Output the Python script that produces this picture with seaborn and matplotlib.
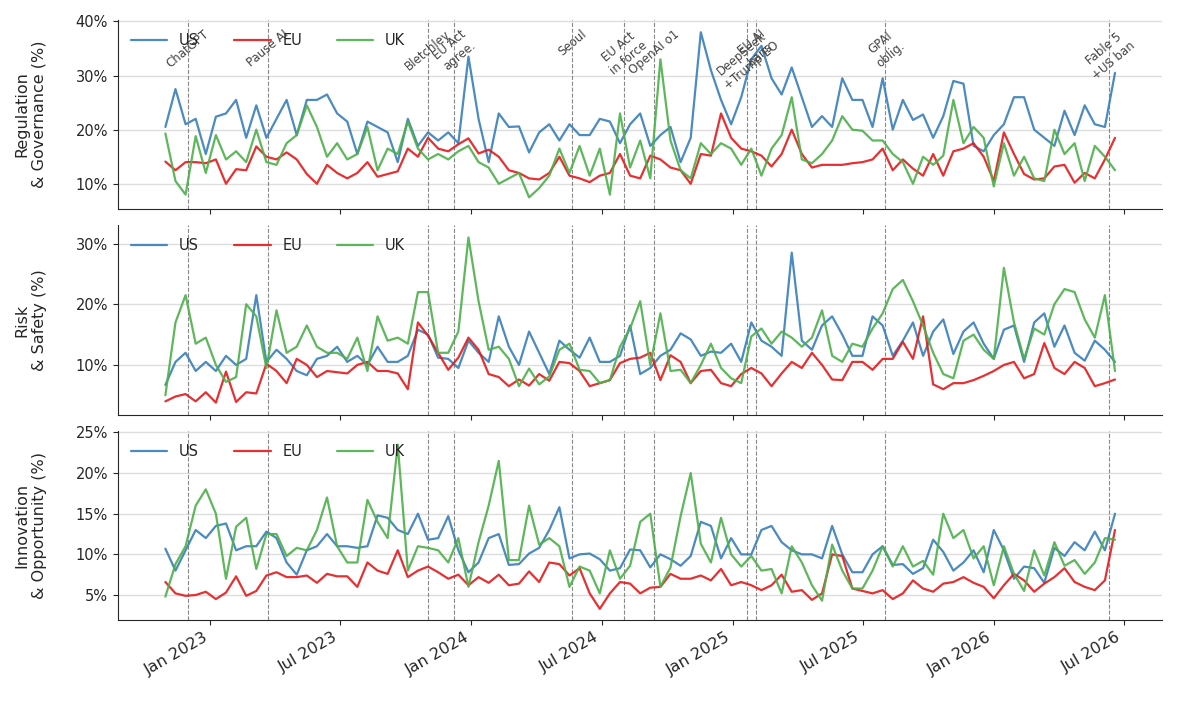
import numpy as np
import pandas as pd
import matplotlib.pyplot as plt
import matplotlib.dates as mdates
from matplotlib.ticker import FuncFormatter, MultipleLocator
import seaborn as sns

sns.set_style("ticks")

# ~biweekly sampling, late Oct 2022 -> mid Jun 2026
dates = pd.date_range("2022-10-30", "2026-06-19", periods=95)

# Regulation & Governance (%)
reg_us = [20.5, 27.5, 21.0, 22.0, 15.5, 22.4, 23.0, 25.5, 18.5, 24.5, 18.5, 22.0, 25.5, 19.0, 25.5, 25.5, 26.5, 23.0, 21.5, 15.5,
          21.5, 20.5, 19.5, 14.0, 22.0, 17.0, 19.5, 18.0, 19.5, 17.5, 33.5, 22.0, 14.0, 23.0, 20.5,
          20.6, 15.8, 19.5, 21.0, 18.0, 21.0, 19.0, 19.0, 22.0, 21.5, 17.5, 21.0, 23.0, 17.0, 19.0, 20.5, 14.0, 18.5, 38.0, 31.0,
          25.5, 21.0, 26.0, 33.0, 35.5, 29.5, 26.5, 31.5, 26.0, 20.5, 22.5, 20.5, 29.5, 25.5, 25.5, 20.5, 29.5, 20.0,
          25.5, 21.8, 22.8, 18.5, 22.5, 29.0, 28.5, 17.0, 16.0, 19.0, 21.0, 26.0, 26.0, 20.0, 18.5, 17.0, 23.5, 19.0, 24.5, 21.0,
          20.5, 30.5]
reg_eu = [14.1, 12.5, 14.0, 14.0, 13.8, 14.5, 10.0, 12.7, 12.5, 16.9, 15.0, 14.5, 15.8, 14.5, 11.8, 10.0, 13.5, 12.0, 11.0, 12.0,
          14.0, 11.3, 11.8, 12.3, 16.5, 15.0, 18.5, 16.5, 16.0, 17.3, 18.4, 15.6, 16.3, 15.0, 12.5,
          12.0, 11.0, 10.8, 12.0, 15.0, 11.5, 11.0, 10.3, 11.5, 12.0, 15.5, 11.5, 11.0, 15.2, 14.5, 13.0, 12.5, 10.0, 15.5, 15.2,
          23.0, 18.5, 16.5, 16.0, 15.2, 13.2, 15.5, 20.0, 15.5, 13.0, 13.5, 13.5, 13.5, 13.8, 14.0, 14.5, 16.5, 12.5,
          14.5, 12.8, 11.5, 15.5, 11.5, 16.0, 16.5, 17.5, 15.0, 10.5, 19.5, 15.5, 11.8, 10.8, 11.0, 13.2, 13.5, 10.2, 12.0, 11.0,
          14.5, 18.5]
reg_uk = [19.3, 10.5, 8.0, 18.8, 12.0, 19.0, 14.5, 16.0, 14.0, 20.0, 14.0, 13.5, 17.5, 19.0, 24.5, 20.5, 15.0, 17.5, 14.5, 15.5,
          20.5, 12.5, 16.5, 15.5, 21.5, 16.5, 14.5, 15.5, 14.5, 16.0, 17.0, 14.0, 13.0, 10.0, 11.0,
          12.0, 7.5, 9.2, 11.5, 16.5, 12.0, 17.0, 11.5, 16.5, 8.0, 23.0, 13.0, 18.0, 11.0, 33.0, 18.0, 12.5, 11.0, 17.5, 15.5,
          17.5, 16.5, 13.5, 16.5, 11.5, 16.5, 19.0, 26.0, 14.5, 13.8, 15.5, 18.0, 22.5, 20.0, 19.8, 18.0, 18.0, 15.5,
          14.0, 10.0, 15.0, 13.5, 15.2, 25.5, 17.5, 20.5, 18.5, 9.5, 17.5, 11.5, 15.0, 11.0, 10.5, 20.0, 15.5, 17.5, 10.5, 17.0,
          15.0, 12.5]

# Risk & Safety (%)
risk_us = [6.7, 10.5, 12.0, 9.0, 10.5, 9.0, 11.5, 10.0, 11.0, 21.5, 10.5, 12.5, 11.0, 9.0, 8.3, 11.0, 11.5, 13.0, 10.5, 11.5,
           10.0, 13.0, 10.5, 10.5, 11.5, 15.8, 15.0, 11.2, 11.0, 9.5, 14.0, 12.0, 10.5, 18.0, 13.0,
           10.0, 15.5, 12.0, 8.5, 14.0, 12.5, 11.2, 14.5, 10.5, 10.5, 11.5, 16.5, 8.5, 9.5, 11.5, 12.5, 15.2, 14.2, 11.5, 12.2,
           12.0, 13.5, 10.5, 17.0, 14.0, 13.0, 11.5, 28.5, 14.0, 12.5, 16.5, 18.0, 15.0, 11.5, 11.5, 18.0, 16.5, 11.5,
           14.0, 17.0, 11.5, 15.5, 17.5, 11.8, 15.5, 17.0, 13.5, 11.0, 15.8, 16.5, 10.5, 17.0, 18.5, 13.0, 16.5, 12.0, 10.7, 14.0,
           12.5, 10.5]
risk_eu = [4.0, 4.8, 5.2, 4.0, 5.5, 3.8, 8.9, 3.9, 5.5, 5.3, 10.2, 9.0, 7.0, 11.0, 10.0, 8.0, 9.0, 8.8, 8.6, 10.0,
           10.5, 9.0, 9.0, 8.6, 6.0, 17.0, 14.8, 12.0, 9.2, 11.2, 14.5, 12.5, 8.5, 8.0, 6.5,
           7.6, 6.6, 8.5, 7.4, 10.5, 10.3, 9.0, 6.5, 7.0, 7.5, 10.3, 11.0, 11.2, 12.0, 7.5, 11.6, 10.5, 7.0, 9.0, 9.2,
           7.0, 6.5, 8.5, 9.5, 8.6, 6.5, 8.6, 10.5, 9.5, 12.0, 10.0, 7.6, 7.5, 10.5, 10.5, 9.2, 11.0, 11.0,
           13.8, 11.0, 18.0, 6.8, 6.0, 7.0, 7.0, 7.5, 8.2, 9.0, 10.0, 10.5, 7.8, 8.5, 13.6, 9.5, 8.5, 10.5, 9.5, 6.5,
           7.0, 7.6]
risk_uk = [5.0, 17.0, 21.5, 13.5, 14.5, 10.0, 7.2, 8.0, 20.0, 18.0, 9.5, 19.0, 12.0, 13.0, 16.5, 13.0, 12.0, 12.0, 11.0, 14.5,
           9.0, 18.0, 14.0, 14.5, 13.5, 22.0, 22.0, 12.0, 12.0, 15.5, 31.0, 20.5, 12.5, 13.0, 11.0,
           6.5, 9.4, 6.8, 8.1, 12.5, 13.5, 9.2, 9.0, 7.0, 7.5, 13.0, 16.0, 20.5, 10.0, 18.5, 9.0, 9.2, 7.0, 10.0, 13.5,
           9.5, 7.8, 7.0, 14.7, 16.0, 13.5, 15.5, 14.5, 13.0, 14.5, 19.0, 11.5, 10.5, 13.5, 13.0, 16.0, 18.5, 22.5,
           24.0, 20.5, 16.5, 12.0, 8.5, 7.8, 14.0, 15.0, 12.5, 11.0, 26.0, 17.0, 11.0, 16.0, 15.0, 20.0, 22.5, 22.0, 17.5, 14.5,
           21.5, 9.0]

# Innovation & Opportunity (%)
inno_us = [10.7, 8.0, 10.5, 13.0, 12.0, 13.5, 13.8, 10.5, 11.0, 11.0, 12.8, 12.0, 9.0, 7.5, 10.5, 11.0, 12.5, 11.0, 11.0, 10.8,
           11.0, 14.8, 14.5, 13.0, 12.5, 15.0, 11.8, 12.0, 14.7, 10.5, 7.8, 9.0, 12.0, 12.5, 8.7,
           8.8, 10.1, 10.8, 13.0, 15.8, 9.5, 10.0, 10.1, 9.4, 8.0, 8.3, 10.6, 10.5, 8.4, 10.0, 9.4, 8.6, 9.8, 14.0, 13.5,
           9.5, 12.0, 10.0, 10.0, 13.0, 13.5, 11.5, 10.5, 10.0, 10.0, 9.5, 13.5, 10.0, 7.8, 7.8, 10.0, 11.0, 8.7,
           8.8, 7.6, 8.3, 11.8, 10.3, 8.0, 9.0, 10.5, 7.8, 13.0, 10.5, 7.0, 8.5, 8.3, 6.5, 10.8, 9.8, 11.5, 10.5, 12.8,
           10.5, 15.0]
inno_eu = [6.6, 5.2, 4.9, 5.0, 5.4, 4.5, 5.3, 7.3, 4.9, 5.5, 7.4, 7.8, 7.2, 7.2, 7.4, 6.5, 7.6, 7.3, 7.3, 6.0,
           9.0, 8.0, 7.6, 10.5, 7.2, 8.0, 8.5, 7.8, 7.0, 7.5, 6.2, 7.2, 6.5, 7.5, 6.2,
           6.4, 7.9, 6.6, 9.0, 8.8, 7.4, 8.3, 5.2, 3.3, 5.2, 6.6, 6.4, 5.2, 5.9, 6.0, 7.6, 7.0, 7.0, 7.4, 6.8,
           8.2, 6.2, 6.6, 6.2, 5.6, 6.2, 7.5, 5.4, 5.6, 4.4, 5.2, 10.0, 9.8, 5.8, 5.5, 5.2, 5.6, 4.5,
           5.2, 6.8, 5.8, 5.4, 6.4, 6.6, 7.2, 6.5, 6.0, 4.6, 6.2, 7.6, 6.8, 5.4, 6.4, 7.2, 8.3, 6.6, 6.0, 5.6,
           6.8, 13.0]
inno_uk = [4.8, 8.8, 11.0, 16.0, 18.0, 15.0, 7.0, 13.4, 14.5, 8.2, 12.5, 12.5, 9.8, 10.8, 10.5, 13.0, 17.0, 11.0, 9.0, 9.0,
           16.7, 14.0, 12.0, 23.5, 8.0, 11.0, 10.8, 10.5, 9.0, 12.0, 6.0, 11.5, 16.0, 21.5, 9.3,
           9.3, 16.0, 11.2, 12.0, 11.0, 6.0, 8.5, 8.0, 5.2, 10.5, 7.0, 8.6, 14.0, 15.0, 6.0, 8.4, 14.7, 20.0, 11.3, 9.0,
           14.5, 10.0, 8.5, 9.8, 8.0, 8.2, 5.2, 11.0, 9.0, 6.2, 4.3, 11.2, 8.0, 5.8, 5.8, 8.0, 11.0, 8.5,
           11.0, 8.5, 9.2, 7.5, 15.0, 12.0, 13.0, 9.5, 11.0, 6.2, 11.0, 7.6, 5.5, 10.5, 7.4, 11.5, 8.6, 9.3, 7.6, 9.0,
           12.0, 11.8]

regions = ["US", "EU", "UK"]
palette = {"US": "#377eb8", "EU": "#e41a1c", "UK": "#4daf4a"}

event_dates = ["2022-11-30", "2023-03-22", "2023-11-01", "2023-12-08", "2024-05-21", "2024-08-01",
               "2024-09-12", "2025-01-20", "2025-02-02", "2025-08-02", "2026-06-10"]
event_labels = ["ChatGPT", "Pause AI", "Bletchley", "EU Act\nagree.", "Seoul", "EU Act\nin force",
                "OpenAI o1", "DeepSeek\n+Trump EO", "EU AI\nbans", "GPAI\noblig.", "Fable 5\n+US ban"]

panels = [
    ("Regulation\n& Governance (%)", [reg_us, reg_eu, reg_uk], (5.3, 40.3), 10),
    ("Risk\n& Safety (%)", [risk_us, risk_eu, risk_uk], (1.8, 33.0), 10),
    ("Innovation\n& Opportunity (%)", [inno_us, inno_eu, inno_uk], (1.9, 25.2), 5),
]

fig, axes = plt.subplots(3, 1, figsize=(11.79, 7.08), dpi=100, sharex=True)
fig.subplots_adjust(left=0.100, right=0.986, top=0.972, bottom=0.124, hspace=0.085)

for ax, (ylabel, series, ylim, step) in zip(axes, panels):
    df = pd.concat([pd.DataFrame({"date": dates, "value": vals, "region": r})
                    for r, vals in zip(regions, series)], ignore_index=True)
    ax.grid(axis="y", color="#dddddd", linewidth=1.0)
    ax.set_axisbelow(True)
    for d in event_dates:
        ax.axvline(pd.Timestamp(d), color="#888888", linestyle="--", linewidth=0.8, zorder=1)
    sns.lineplot(data=df, x="date", y="value", hue="region", hue_order=regions,
                 palette=palette, linewidth=1.6, alpha=0.9, ax=ax, zorder=3)
    ax.set_ylim(*ylim)
    ax.yaxis.set_major_locator(MultipleLocator(step))
    ax.yaxis.set_major_formatter(FuncFormatter(lambda v, p: f"{v:.0f}%"))
    ax.set_ylabel(ylabel, fontsize=11.5)
    ax.yaxis.set_label_coords(-0.068, 0.5)
    ax.set_xlabel("")
    ax.tick_params(axis="y", labelsize=10.5)
    ax.tick_params(axis="x", labelsize=11.5)
    ax.legend(loc="upper left", ncol=3, frameon=False, fontsize=10.5,
              handlelength=2.5, columnspacing=2.4)
    sns.despine(ax=ax)

top = axes[0]
for d, lab in zip(event_dates, event_labels):
    top.text(pd.Timestamp(d), 0.96, lab, transform=top.get_xaxis_transform(),
             rotation=40, ha="center", va="top", fontsize=8.5, color="#444444")

axes[-1].xaxis.set_major_locator(mdates.MonthLocator(bymonth=[1, 7]))
axes[-1].xaxis.set_major_formatter(mdates.DateFormatter("%b %Y"))
for lab in axes[-1].get_xticklabels():
    lab.set_rotation(30)
    lab.set_ha("right")

fig.savefig("out.png", dpi=100)
